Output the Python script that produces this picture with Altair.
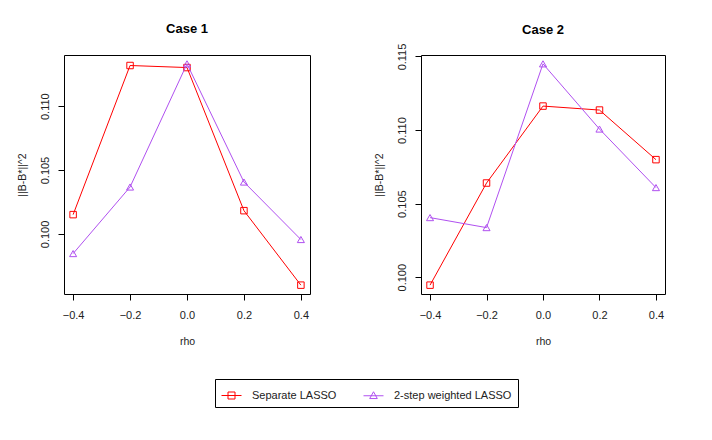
import altair as alt
import pandas as pd

rho = [-0.4, -0.2, 0.0, 0.2, 0.4]
series_names = ["Separate LASSO", "2-step weighted LASSO"]
series_colors = ["#FF0000", "#B050F0"]

case1_separate = [0.10151, 0.11318, 0.11302, 0.10182, 0.09599]
case1_weighted = [0.09846, 0.10367, 0.11331, 0.10406, 0.09956]
case2_separate = [0.09946, 0.10640, 0.11163, 0.11136, 0.10799]
case2_weighted = [0.10405, 0.10337, 0.11450, 0.11007, 0.10609]

case1_ticks = [0.100, 0.105, 0.110]
case2_ticks = [0.100, 0.105, 0.110, 0.115]

FONT = "Liberation Sans"

legend_paths = [
    "M-1,0H1M-0.35,-0.35H0.35V0.35H-0.35Z",
    "M-1,0H1M0,-0.4L0.38,0.28H-0.38Z",
]


def make_df(sep, wtd):
    rows = []
    for r, v in zip(rho, sep):
        rows.append({"rho": r, "value": v, "series": series_names[0]})
    for r, v in zip(rho, wtd):
        rows.append({"rho": r, "value": v, "series": series_names[1]})
    return pd.DataFrame(rows)


def padded(vals):
    lo, hi = min(vals), max(vals)
    d = (hi - lo) * 0.04
    return [lo - d, hi + d]


def panel(df, title, ticks, width, title_offset):
    ydom = padded(list(df["value"]))
    xdom = padded(rho)
    x = alt.X(
        "rho:Q",
        scale=alt.Scale(domain=xdom, nice=False, zero=False),
        axis=alt.Axis(values=rho, format=".1f", title="rho", labelPadding=9,
                      titlePadding=16),
    )
    y = alt.Y(
        "value:Q",
        scale=alt.Scale(domain=ydom, nice=False, zero=False),
        axis=alt.Axis(values=ticks, format=".3f", title="||B-B*||^2",
                      labelAngle=-90, labelAlign="center", labelBaseline="bottom",
                      labelPadding=8, titlePadding=12),
    )
    base = alt.Chart(df)
    leg = base.mark_point(filled=False, opacity=0).encode(
        x=x, y=y,
        color=alt.Color("series:N", scale=alt.Scale(domain=series_names, range=series_colors),
                        sort=series_names),
        shape=alt.Shape("series:N", scale=alt.Scale(domain=series_names, range=legend_paths),
                        sort=series_names),
    )
    layers = [leg]
    shapes = ["square", "triangle-up"]
    sizes = [42, 50]
    for name, col, shp, sz in zip(series_names, series_colors, shapes, sizes):
        sub = base.transform_filter(alt.datum.series == name)
        layers.append(sub.mark_line(strokeWidth=1, color=col).encode(x=x, y=y))
        layers.append(sub.mark_point(shape=shp, filled=False, size=sz, strokeWidth=1,
                                     color=col, opacity=1).encode(x=x, y=y))
    return alt.layer(*layers).properties(
        width=width, height=239,
        title=alt.TitleParams(title, fontSize=13, fontWeight="bold", font=FONT,
                              frame="group", anchor="middle", offset=title_offset,
                              color="black"),
    )


p1 = panel(make_df(case1_separate, case1_weighted), "Case 1", case1_ticks, 246, 19)
p2 = panel(make_df(case2_separate, case2_weighted), "Case 2", case2_ticks, 244, 6)

chart = alt.hconcat(p1, p2, spacing=62).configure(
    padding={"left": 8, "top": 14, "right": 5, "bottom": 5},
    font=FONT,
).configure_view(
    stroke="black", strokeWidth=1,
).configure_axis(
    domain=False, grid=False, tickSize=6, tickColor="black", tickWidth=1,
    labelFont=FONT, labelFontSize=11, labelColor="#222222",
    titleFont=FONT, titleFontSize=10.5, titleFontWeight="normal", titleColor="#222222",
).configure_legend(
    orient="none", legendX=151, legendY=324, direction="horizontal",
    title=None, strokeColor="black", padding=6, symbolSize=400, symbolStrokeWidth=1,
    symbolOpacity=1, labelFont=FONT, labelFontSize=11, labelColor="#222222",
    columnPadding=24, labelOffset=10,
)

chart.save("out.html", embed_options={"renderer": "svg", "actions": False})
